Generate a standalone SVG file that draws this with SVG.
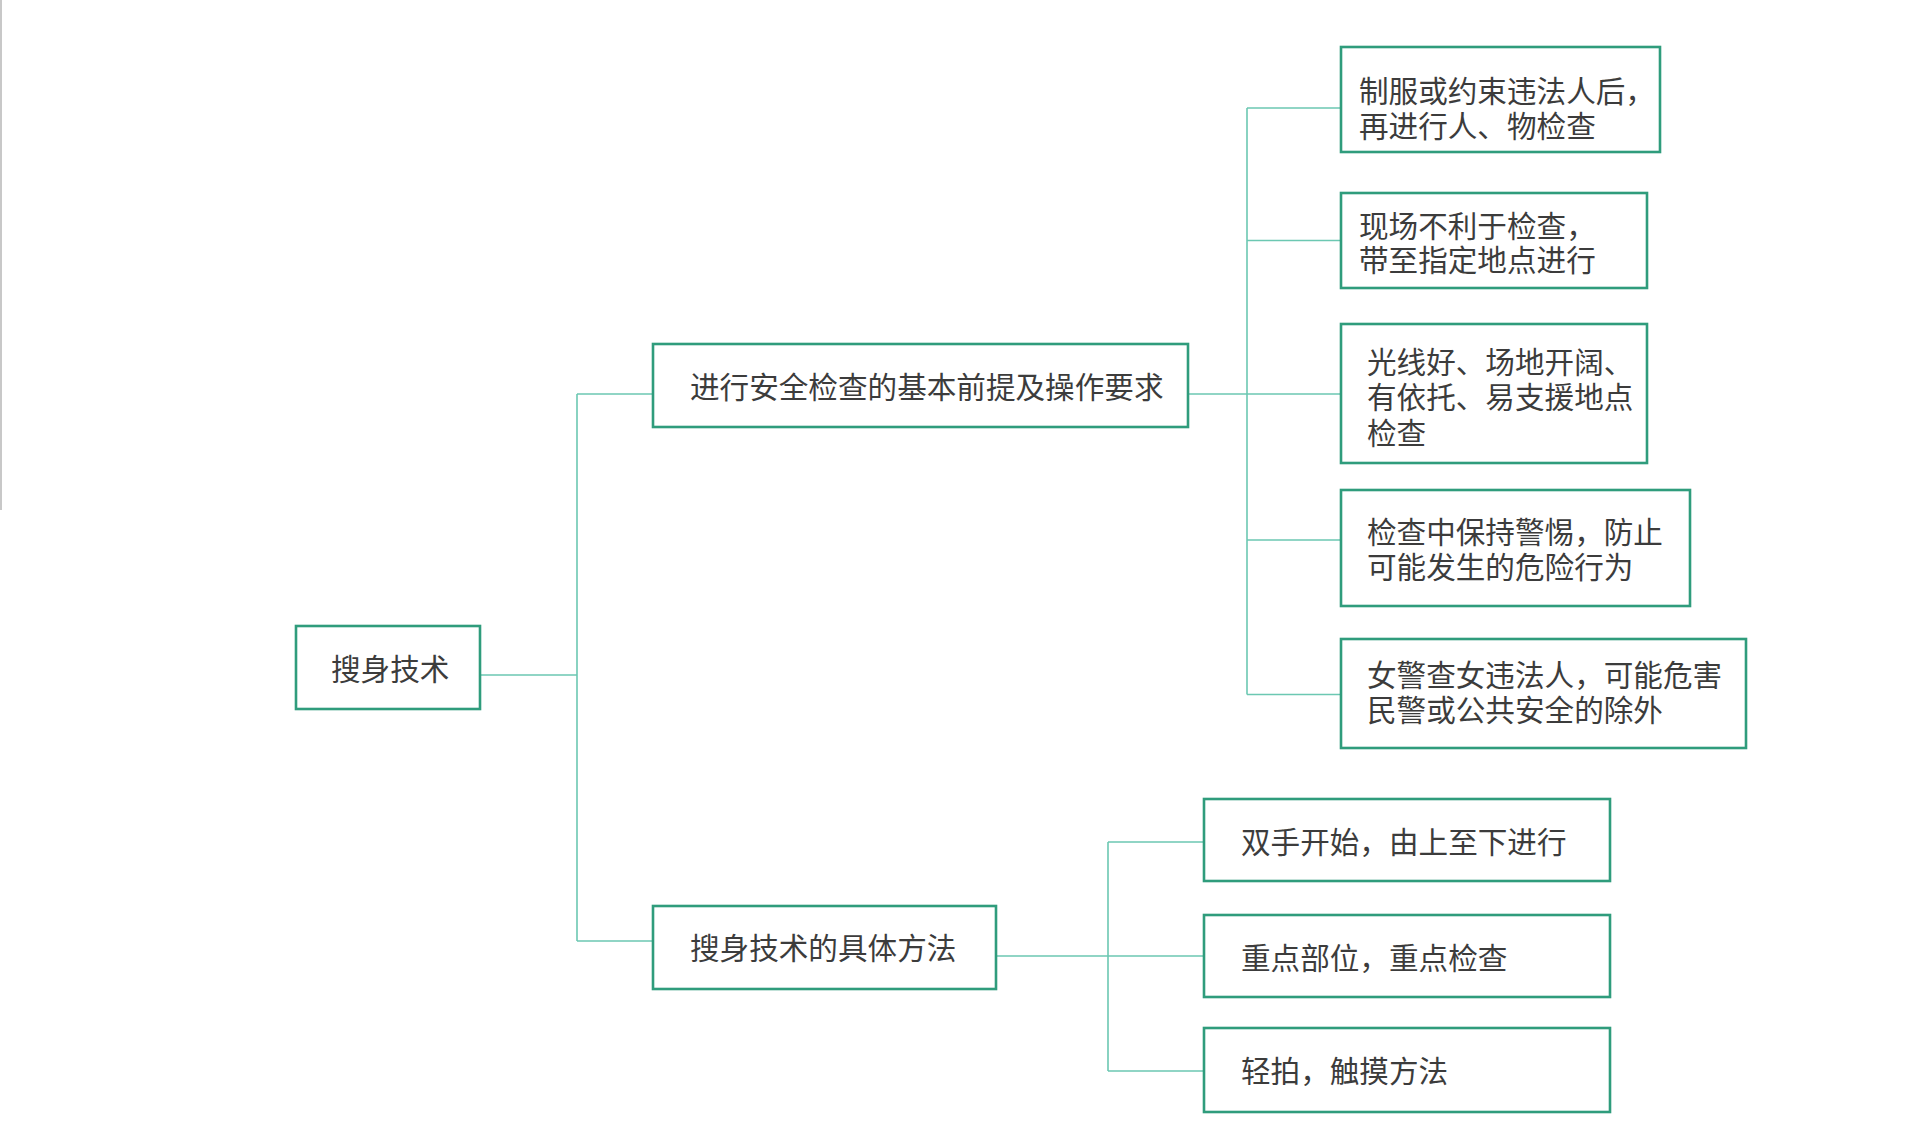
<svg xmlns="http://www.w3.org/2000/svg" width="1924" height="1147" viewBox="0 0 1924 1147">
<style>
.box{fill:#ffffff;stroke:#2f9c7c;stroke-width:2.6}
.conn{fill:none;stroke:#6cc8b2;stroke-width:1.6}
.t{font-family:"Noto Sans CJK SC","Noto Sans",sans-serif;font-size:29.6px;fill:#3c3c3c;dominant-baseline:central}
</style>
<rect x="0" y="0" width="1924" height="1147" fill="#ffffff"/>
<line x1="1" y1="0" x2="1" y2="510" stroke="#c8c8c8" stroke-width="2"/>
<g id="connectors">
<path class="conn" d="M480,675 H577 M577,394 V941 M577,394 H653 M577,941 H653"/>
<path class="conn" d="M1188,394 H1341 M1247,108 V694.5 M1247,108 H1341 M1247,240.5 H1341 M1247,540 H1341 M1247,694.5 H1341"/>
<path class="conn" d="M996,956 H1204 M1108,842 V1071 M1108,842 H1204 M1108,1071 H1204"/>
</g>
<g id="root">
<rect class="box" x="296" y="626" width="184" height="83"/>
<text class="t" x="331" y="667">搜身技术</text>
</g>
<g id="n_premise">
<rect class="box" x="653" y="344" width="535" height="83"/>
<text class="t" x="690" y="385">进行安全检查的基本前提及操作要求</text>
</g>
<g id="n_method">
<rect class="box" x="653" y="906" width="343" height="83"/>
<text class="t" x="690" y="946">搜身技术的具体方法</text>
</g>
<g id="n_a">
<rect class="box" x="1341" y="47" width="319" height="105"/>
<text class="t"><tspan x="1359" y="89">制服或约束违法人后，</tspan><tspan x="1359" y="124">再进行人、物检查</tspan></text>
</g>
<g id="n_b">
<rect class="box" x="1341" y="193" width="306" height="95"/>
<text class="t"><tspan x="1359" y="224">现场不利于检查，</tspan><tspan x="1359" y="258">带至指定地点进行</tspan></text>
</g>
<g id="n_c">
<rect class="box" x="1341" y="324" width="306" height="139"/>
<text class="t"><tspan x="1367" y="360">光线好、场地开阔、</tspan><tspan x="1367" y="395">有依托、易支援地点</tspan><tspan x="1367" y="431">检查</tspan></text>
</g>
<g id="n_d">
<rect class="box" x="1341" y="490" width="349" height="116"/>
<text class="t"><tspan x="1367" y="530">检查中保持警惕，防止</tspan><tspan x="1367" y="565">可能发生的危险行为</tspan></text>
</g>
<g id="n_e">
<rect class="box" x="1341" y="639" width="405" height="109"/>
<text class="t"><tspan x="1367" y="673">女警查女违法人，可能危害</tspan><tspan x="1367" y="708">民警或公共安全的除外</tspan></text>
</g>
<g id="n_f">
<rect class="box" x="1204" y="799" width="406" height="82"/>
<text class="t" x="1241" y="840">双手开始，由上至下进行</text>
</g>
<g id="n_g">
<rect class="box" x="1204" y="915" width="406" height="82"/>
<text class="t" x="1241" y="956">重点部位，重点检查</text>
</g>
<g id="n_h">
<rect class="box" x="1204" y="1028" width="406" height="84"/>
<text class="t" x="1241" y="1069">轻拍，触摸方法</text>
</g>
</svg>
